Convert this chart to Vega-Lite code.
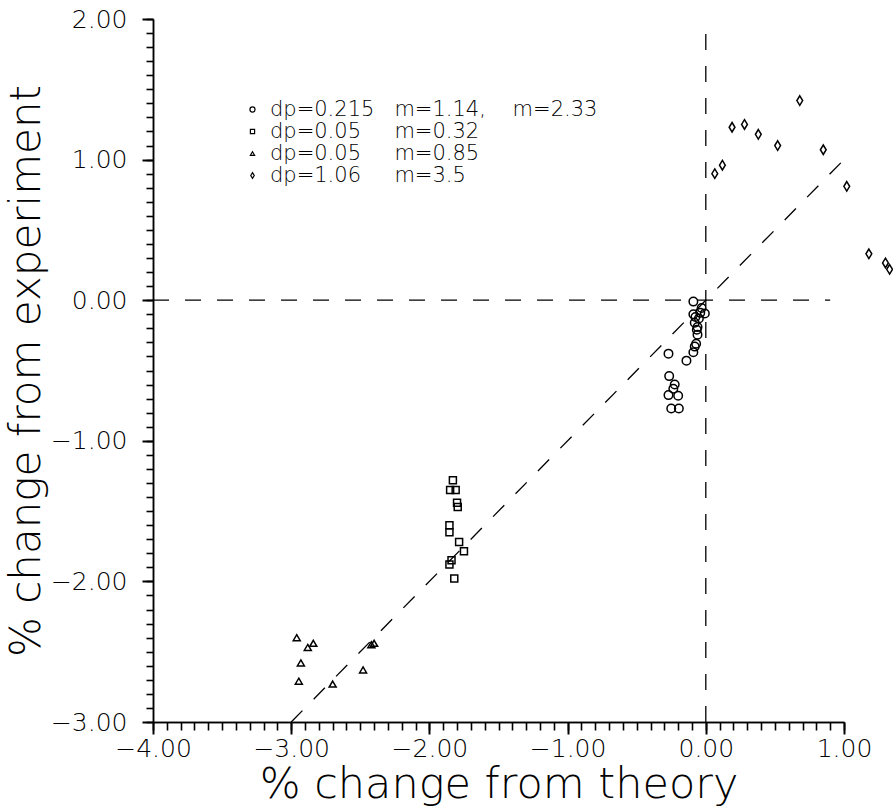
{
  "$schema": "https://vega.github.io/schema/vega-lite/v6.json",
  "width": 691,
  "height": 703,
  "autosize": {"type": "none"},
  "padding": {"left": 153, "top": 19, "right": 49, "bottom": 86},
  "background": "white",
  "config": {"view": {"stroke": null}, "font": "DejaVu Sans"},
  "resolve": {"axis": {"x": "independent", "y": "independent"}},
  "layer": [
    {
      "data": {"values": [
        {"x": -4, "y": 0, "line": "h"},
        {"x": 0.9, "y": 0, "line": "h"},
        {"x": 0, "y": -3, "line": "v"},
        {"x": 0, "y": 1.9, "line": "v"},
        {"x": -3, "y": -3, "line": "d"},
        {"x": 1, "y": 1, "line": "d"}
      ]},
      "mark": {"type": "line", "color": "black", "strokeWidth": 1.3, "strokeDash": [16, 16]},
      "encoding": {
        "x": {
          "field": "x",
          "type": "quantitative",
          "scale": {"domain": [-4, 1], "nice": false, "zero": false},
          "axis": {
            "orient": "bottom",
            "title": null,
            "values": [-4,-3.9,-3.8,-3.7,-3.6,-3.5,-3.4,-3.3,-3.2,-3.1,-3,-2.9,-2.8,-2.7,-2.6,-2.5,-2.4,-2.3,-2.2,-2.1,-2,-1.9,-1.8,-1.7,-1.6,-1.5,-1.4,-1.3,-1.2,-1.1,-1,-0.9,-0.8,-0.7,-0.6,-0.5,-0.4,-0.3,-0.2,-0.1,0,0.1,0.2,0.3,0.4,0.5,0.6,0.7,0.8,0.9,1],
            "tickCount": 100,
            "labels": false,
            "ticks": true,
            "tickSize": 8,
            "tickColor": "black",
            "tickWidth": 1.6,
            "domainColor": "black",
            "domainWidth": 1.5,
            "grid": false,
            "zindex": 1
          }
        },
        "y": {
          "field": "y",
          "type": "quantitative",
          "scale": {"domain": [-3, 2], "nice": false, "zero": false},
          "axis": {
            "orient": "left",
            "title": null,
            "values": [-3,-2.9,-2.8,-2.7,-2.6,-2.5,-2.4,-2.3,-2.2,-2.1,-2,-1.9,-1.8,-1.7,-1.6,-1.5,-1.4,-1.3,-1.2,-1.1,-1,-0.9,-0.8,-0.7,-0.6,-0.5,-0.4,-0.3,-0.2,-0.1,0,0.1,0.2,0.3,0.4,0.5,0.6,0.7,0.8,0.9,1,1.1,1.2,1.3,1.4,1.5,1.6,1.7,1.8,1.9,2],
            "tickCount": 100,
            "labels": false,
            "ticks": true,
            "tickSize": 7,
            "tickColor": "black",
            "tickWidth": 1.6,
            "domainColor": "black",
            "domainWidth": 1.5,
            "grid": false,
            "zindex": 1
          }
        },
        "detail": {"field": "line", "type": "nominal"}
      }
    },
    {
      "data": {"values": [
        {"x": -0.09, "y": -0.01, "series": "dp=0.215\u00a0\u00a0\u00a0m=1.14,\u00a0\u00a0\u00a0\u00a0m=2.33"},
        {"x": -0.03, "y": -0.055, "series": "dp=0.215\u00a0\u00a0\u00a0m=1.14,\u00a0\u00a0\u00a0\u00a0m=2.33"},
        {"x": -0.007, "y": -0.095, "series": "dp=0.215\u00a0\u00a0\u00a0m=1.14,\u00a0\u00a0\u00a0\u00a0m=2.33"},
        {"x": -0.09, "y": -0.1, "series": "dp=0.215\u00a0\u00a0\u00a0m=1.14,\u00a0\u00a0\u00a0\u00a0m=2.33"},
        {"x": -0.075, "y": -0.12, "series": "dp=0.215\u00a0\u00a0\u00a0m=1.14,\u00a0\u00a0\u00a0\u00a0m=2.33"},
        {"x": -0.04, "y": -0.09, "series": "dp=0.215\u00a0\u00a0\u00a0m=1.14,\u00a0\u00a0\u00a0\u00a0m=2.33"},
        {"x": -0.05, "y": -0.13, "series": "dp=0.215\u00a0\u00a0\u00a0m=1.14,\u00a0\u00a0\u00a0\u00a0m=2.33"},
        {"x": -0.08, "y": -0.16, "series": "dp=0.215\u00a0\u00a0\u00a0m=1.14,\u00a0\u00a0\u00a0\u00a0m=2.33"},
        {"x": -0.06, "y": -0.19, "series": "dp=0.215\u00a0\u00a0\u00a0m=1.14,\u00a0\u00a0\u00a0\u00a0m=2.33"},
        {"x": -0.065, "y": -0.21, "series": "dp=0.215\u00a0\u00a0\u00a0m=1.14,\u00a0\u00a0\u00a0\u00a0m=2.33"},
        {"x": -0.06, "y": -0.245, "series": "dp=0.215\u00a0\u00a0\u00a0m=1.14,\u00a0\u00a0\u00a0\u00a0m=2.33"},
        {"x": -0.07, "y": -0.31, "series": "dp=0.215\u00a0\u00a0\u00a0m=1.14,\u00a0\u00a0\u00a0\u00a0m=2.33"},
        {"x": -0.08, "y": -0.33, "series": "dp=0.215\u00a0\u00a0\u00a0m=1.14,\u00a0\u00a0\u00a0\u00a0m=2.33"},
        {"x": -0.09, "y": -0.37, "series": "dp=0.215\u00a0\u00a0\u00a0m=1.14,\u00a0\u00a0\u00a0\u00a0m=2.33"},
        {"x": -0.14, "y": -0.43, "series": "dp=0.215\u00a0\u00a0\u00a0m=1.14,\u00a0\u00a0\u00a0\u00a0m=2.33"},
        {"x": -0.27, "y": -0.38, "series": "dp=0.215\u00a0\u00a0\u00a0m=1.14,\u00a0\u00a0\u00a0\u00a0m=2.33"},
        {"x": -0.265, "y": -0.54, "series": "dp=0.215\u00a0\u00a0\u00a0m=1.14,\u00a0\u00a0\u00a0\u00a0m=2.33"},
        {"x": -0.225, "y": -0.6, "series": "dp=0.215\u00a0\u00a0\u00a0m=1.14,\u00a0\u00a0\u00a0\u00a0m=2.33"},
        {"x": -0.235, "y": -0.63, "series": "dp=0.215\u00a0\u00a0\u00a0m=1.14,\u00a0\u00a0\u00a0\u00a0m=2.33"},
        {"x": -0.27, "y": -0.675, "series": "dp=0.215\u00a0\u00a0\u00a0m=1.14,\u00a0\u00a0\u00a0\u00a0m=2.33"},
        {"x": -0.2, "y": -0.68, "series": "dp=0.215\u00a0\u00a0\u00a0m=1.14,\u00a0\u00a0\u00a0\u00a0m=2.33"},
        {"x": -0.25, "y": -0.77, "series": "dp=0.215\u00a0\u00a0\u00a0m=1.14,\u00a0\u00a0\u00a0\u00a0m=2.33"},
        {"x": -0.195, "y": -0.77, "series": "dp=0.215\u00a0\u00a0\u00a0m=1.14,\u00a0\u00a0\u00a0\u00a0m=2.33"},
        {"x": -1.83, "y": -1.28, "series": "dp=0.05\u00a0\u00a0\u00a0\u00a0\u00a0m=0.32"},
        {"x": -1.85, "y": -1.35, "series": "dp=0.05\u00a0\u00a0\u00a0\u00a0\u00a0m=0.32"},
        {"x": -1.81, "y": -1.35, "series": "dp=0.05\u00a0\u00a0\u00a0\u00a0\u00a0m=0.32"},
        {"x": -1.8, "y": -1.44, "series": "dp=0.05\u00a0\u00a0\u00a0\u00a0\u00a0m=0.32"},
        {"x": -1.795, "y": -1.47, "series": "dp=0.05\u00a0\u00a0\u00a0\u00a0\u00a0m=0.32"},
        {"x": -1.855, "y": -1.6, "series": "dp=0.05\u00a0\u00a0\u00a0\u00a0\u00a0m=0.32"},
        {"x": -1.855, "y": -1.65, "series": "dp=0.05\u00a0\u00a0\u00a0\u00a0\u00a0m=0.32"},
        {"x": -1.785, "y": -1.72, "series": "dp=0.05\u00a0\u00a0\u00a0\u00a0\u00a0m=0.32"},
        {"x": -1.75, "y": -1.785, "series": "dp=0.05\u00a0\u00a0\u00a0\u00a0\u00a0m=0.32"},
        {"x": -1.84, "y": -1.85, "series": "dp=0.05\u00a0\u00a0\u00a0\u00a0\u00a0m=0.32"},
        {"x": -1.855, "y": -1.88, "series": "dp=0.05\u00a0\u00a0\u00a0\u00a0\u00a0m=0.32"},
        {"x": -1.82, "y": -1.98, "series": "dp=0.05\u00a0\u00a0\u00a0\u00a0\u00a0m=0.32"},
        {"x": -2.96, "y": -2.4, "series": "dp=0.05\u00a0\u00a0\u00a0\u00a0\u00a0m=0.85"},
        {"x": -2.88, "y": -2.47, "series": "dp=0.05\u00a0\u00a0\u00a0\u00a0\u00a0m=0.85"},
        {"x": -2.84, "y": -2.44, "series": "dp=0.05\u00a0\u00a0\u00a0\u00a0\u00a0m=0.85"},
        {"x": -2.93, "y": -2.58, "series": "dp=0.05\u00a0\u00a0\u00a0\u00a0\u00a0m=0.85"},
        {"x": -2.945, "y": -2.71, "series": "dp=0.05\u00a0\u00a0\u00a0\u00a0\u00a0m=0.85"},
        {"x": -2.7, "y": -2.73, "series": "dp=0.05\u00a0\u00a0\u00a0\u00a0\u00a0m=0.85"},
        {"x": -2.48, "y": -2.63, "series": "dp=0.05\u00a0\u00a0\u00a0\u00a0\u00a0m=0.85"},
        {"x": -2.4, "y": -2.44, "series": "dp=0.05\u00a0\u00a0\u00a0\u00a0\u00a0m=0.85"},
        {"x": -2.42, "y": -2.45, "series": "dp=0.05\u00a0\u00a0\u00a0\u00a0\u00a0m=0.85"},
        {"x": 0.065, "y": 0.9, "series": "dp=1.06\u00a0\u00a0\u00a0\u00a0\u00a0m=3.5"},
        {"x": 0.12, "y": 0.96, "series": "dp=1.06\u00a0\u00a0\u00a0\u00a0\u00a0m=3.5"},
        {"x": 0.19, "y": 1.23, "series": "dp=1.06\u00a0\u00a0\u00a0\u00a0\u00a0m=3.5"},
        {"x": 0.28, "y": 1.25, "series": "dp=1.06\u00a0\u00a0\u00a0\u00a0\u00a0m=3.5"},
        {"x": 0.38, "y": 1.18, "series": "dp=1.06\u00a0\u00a0\u00a0\u00a0\u00a0m=3.5"},
        {"x": 0.52, "y": 1.1, "series": "dp=1.06\u00a0\u00a0\u00a0\u00a0\u00a0m=3.5"},
        {"x": 0.68, "y": 1.42, "series": "dp=1.06\u00a0\u00a0\u00a0\u00a0\u00a0m=3.5"},
        {"x": 0.85, "y": 1.07, "series": "dp=1.06\u00a0\u00a0\u00a0\u00a0\u00a0m=3.5"},
        {"x": 1.02, "y": 0.81, "series": "dp=1.06\u00a0\u00a0\u00a0\u00a0\u00a0m=3.5"},
        {"x": 1.18, "y": 0.33, "series": "dp=1.06\u00a0\u00a0\u00a0\u00a0\u00a0m=3.5"},
        {"x": 1.3, "y": 0.265, "series": "dp=1.06\u00a0\u00a0\u00a0\u00a0\u00a0m=3.5"},
        {"x": 1.33, "y": 0.22, "series": "dp=1.06\u00a0\u00a0\u00a0\u00a0\u00a0m=3.5"}
      ]},
      "mark": {"type": "point", "filled": false, "size": 100, "strokeWidth": 1.5, "color": "black", "opacity": 1},
      "encoding": {
        "x": {
          "field": "x",
          "type": "quantitative",
          "scale": {"domain": [-4, 1], "nice": false, "zero": false},
          "axis": {
            "orient": "bottom",
            "title": "% change from theory",
            "values": [-4, -3, -2, -1, 0, 1],
            "format": ".2f",
            "tickSize": 12,
            "labelFontSize": 25,
            "labelFont": "DejaVu Sans",
            "labelFontWeight": 200,
            "labelColor": "black",
            "labelPadding": 2,
            "labelOverlap": false,
            "labelFlush": false,
            "labelBound": false,
            "domainColor": "black",
            "domainWidth": 1.5,
            "tickColor": "black",
            "tickWidth": 2,
            "grid": false,
            "titleFontSize": 43,
            "titleFont": "DejaVu Sans",
            "titleFontWeight": 200,
            "titleColor": "black",
            "titlePadding": 2
          }
        },
        "y": {
          "field": "y",
          "type": "quantitative",
          "scale": {"domain": [-3, 2], "nice": false, "zero": false},
          "axis": {
            "orient": "left",
            "title": "% change from experiment",
            "values": [-3, -2, -1, 0, 1, 2],
            "format": ".2f",
            "tickSize": 11,
            "labelFontSize": 25,
            "labelFont": "DejaVu Sans",
            "labelFontWeight": 200,
            "labelColor": "black",
            "labelPadding": 15,
            "labelOverlap": false,
            "labelFlush": false,
            "labelBound": false,
            "domainColor": "black",
            "domainWidth": 1.5,
            "tickColor": "black",
            "tickWidth": 2,
            "grid": false,
            "titleFontSize": 42,
            "titleFont": "DejaVu Sans",
            "titleFontWeight": 200,
            "titleColor": "black",
            "titlePadding": 2
          }
        },
        "shape": {
          "field": "series",
          "type": "nominal",
          "scale": {
            "domain": ["dp=0.215\u00a0\u00a0\u00a0m=1.14,\u00a0\u00a0\u00a0\u00a0m=2.33", "dp=0.05\u00a0\u00a0\u00a0\u00a0\u00a0m=0.32", "dp=0.05\u00a0\u00a0\u00a0\u00a0\u00a0m=0.85", "dp=1.06\u00a0\u00a0\u00a0\u00a0\u00a0m=3.5"],
            "range": [
              "M0.85,0A0.85,0.85,0,1,1,-0.85,0A0.85,0.85,0,1,1,0.85,0Z",
              "M-0.7,-0.7H0.7V0.7H-0.7Z",
              "M0,-0.6L0.7,0.6L-0.7,0.6Z",
              "M0,-0.95L0.58,0L0,0.95L-0.58,0Z"
            ]
          },
          "legend": {
            "title": null,
            "orient": "none",
            "legendX": 89,
            "legendY": 80,
            "labelFontSize": 21,
            "labelFont": "DejaVu Sans",
            "labelFontWeight": 200,
            "labelColor": "black",
            "symbolSize": 36,
            "symbolStrokeWidth": 1.2,
            "symbolStrokeColor": "black",
            "labelOffset": 7,
            "rowPadding": 0,
            "padding": 0,
            "labelLimit": 600
          }
        }
      }
    }
  ]
}
